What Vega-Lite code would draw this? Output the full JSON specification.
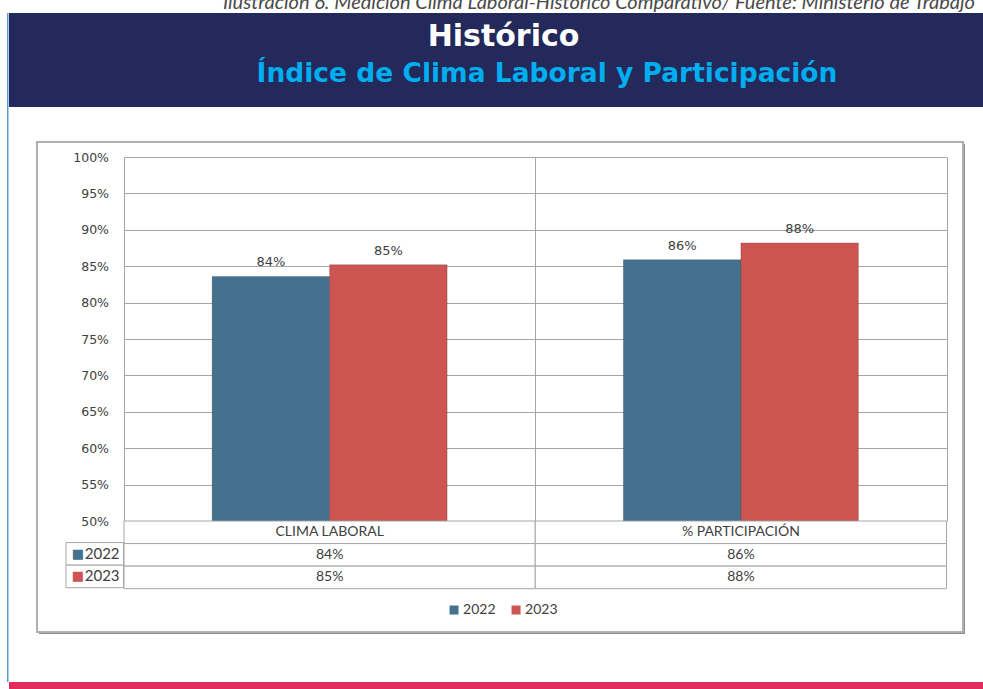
{
  "$schema": "https://vega.github.io/schema/vega-lite/v6.json",
  "padding": {"left": 7, "top": -7, "right": 0, "bottom": 0},
  "background": "white",
  "title": {
    "text": "Ilustración 6. Medición Clima Laboral-Histórico Comparativo/ Fuente: Ministerio de Trabajo",
    "anchor": "end",
    "font": "Lato",
    "fontSize": 20,
    "fontStyle": "italic",
    "fontWeight": "normal",
    "color": "#4A4A4A",
    "offset": 0,
    "dx": -10
  },
  "datasets": {
    "datos": [
      {"categoria": "CLIMA LABORAL", "anio": "2022", "valor": 0.836},
      {"categoria": "CLIMA LABORAL", "anio": "2023", "valor": 0.852},
      {"categoria": "% PARTICIPACIÓN", "anio": "2022", "valor": 0.859},
      {"categoria": "% PARTICIPACIÓN", "anio": "2023", "valor": 0.882}
    ],
    "categorias": [{"categoria": "CLIMA LABORAL"}, {"categoria": "% PARTICIPACIÓN"}],
    "anios": [{"anio": "2022"}, {"anio": "2023"}],
    "titulos": [
      {"orden": 1, "texto": "Histórico"},
      {"orden": 2, "texto": "Índice de Clima Laboral y Participación"}
    ]
  },
  "config": {
    "view": {"stroke": null},
    "axis": {"labelFont": "DejaVu Sans", "labelColor": "#404040"}
  },
  "spacing": 0,
  "hconcat": [
    {
      "width": 1.5,
      "height": 669,
      "data": {"values": []},
      "mark": "rect",
      "encoding": {},
      "view": {"fill": "#5B9BD5", "stroke": null}
    },
    {
      "spacing": 34,
      "vconcat": [
        {
          "width": 976,
          "height": 94,
          "view": {"fill": "#232A5B", "stroke": null},
          "data": {"name": "titulos"},
          "layer": [
            {
              "transform": [{"filter": "datum.orden == 1"}],
              "mark": {"type": "text", "font": "DejaVu Sans", "fontWeight": "bold", "fontSize": 30, "color": "#FFFFFF", "align": "center", "baseline": "alphabetic", "dx": 6.5, "dy": -14},
              "encoding": {"text": {"field": "texto"}}
            },
            {
              "transform": [{"filter": "datum.orden == 2"}],
              "mark": {"type": "text", "font": "DejaVu Sans", "fontWeight": "bold", "fontSize": 26.5, "color": "#00AEEF", "align": "center", "baseline": "alphabetic", "dx": 50, "dy": 22},
              "encoding": {"text": {"field": "texto"}}
            }
          ]
        },
        {
          "spacing": 48,
          "vconcat": [
            {
              "spacing": 0,
              "hconcat": [
                {"width": 27, "height": 10, "data": {"values": []}, "mark": "rect", "encoding": {}},
                {
                  "columns": 1,
                  "align": "none",
                  "spacing": -493,
                  "concat": [
                    {
                      "spacing": 0,
                      "hconcat": [
                        {"width": 2, "height": 10, "data": {"values": []}, "mark": "rect", "encoding": {}},
                        {
                          "width": 926,
                          "height": 490,
                          "data": {"values": []},
                          "mark": "rect",
                          "encoding": {},
                          "view": {"fill": "#8C8C8C", "stroke": null}
                        }
                      ]
                    },
                    {
                      "columns": 1,
                      "align": "none",
                      "spacing": -482,
                      "concat": [
                        {
                          "width": 926,
                          "height": 490,
                          "data": {"values": []},
                          "mark": "rect",
                          "encoding": {},
                          "view": {"stroke": "#B0B0B0", "strokeWidth": 2, "fill": "white"}
                        },
                        {
                          "spacing": 0,
                          "hconcat": [
                            {"width": 28, "height": 10, "data": {"values": []}, "mark": "rect", "encoding": {}},
                            {
                              "columns": 1,
                              "align": "none",
                              "spacing": 10,
                              "concat": [
                                {
                                  "columns": 2,
                                  "align": {"row": "none", "column": "each"},
                                  "spacing": {"row": -8, "column": -52},
                                  "concat": [
                                    {"width": 57.5, "height": 10, "data": {"values": []}, "mark": "rect", "encoding": {}},
                                    {
                                      "width": 822.5,
                                      "height": 364,
                                      "data": {"name": "datos"},
                                      "encoding": {
                                        "x": {
                                          "field": "categoria", "type": "nominal",
                                          "sort": ["CLIMA LABORAL", "% PARTICIPACIÓN"],
                                          "scale": {"paddingInner": 0, "paddingOuter": 0},
                                          "axis": {"title": null, "labels": false, "ticks": false, "domain": false, "grid": true, "tickBand": "extent", "gridColor": "#A6A6A6"}
                                        },
                                        "xOffset": {
                                          "field": "anio", "type": "nominal", "sort": ["2022", "2023"],
                                          "scale": {"paddingInner": 0, "paddingOuter": 0.75}
                                        },
                                        "y": {
                                          "field": "valor", "type": "quantitative",
                                          "scale": {"domain": [0.5, 1], "zero": false, "nice": false},
                                          "axis": {
                                            "title": null, "format": ".0%",
                                            "values": [0.5, 0.55, 0.6, 0.65, 0.7, 0.75, 0.8, 0.85, 0.9, 0.95, 1],
                                            "grid": true, "gridColor": "#A6A6A6", "ticks": false,
                                            "domain": true, "domainColor": "#A6A6A6",
                                            "labelPadding": 15.5, "labelFontSize": 12.5
                                          }
                                        }
                                      },
                                      "layer": [
                                        {
                                          "mark": {"type": "bar", "stroke": "#000000", "strokeOpacity": 0.18, "strokeWidth": 1},
                                          "encoding": {
                                            "y2": {"datum": 0.5},
                                            "color": {
                                              "field": "anio", "type": "nominal",
                                              "scale": {"domain": ["2022", "2023"], "range": ["#44718D", "#CC5552"]},
                                              "legend": null
                                            }
                                          }
                                        },
                                        {
                                          "mark": {"type": "text", "font": "DejaVu Sans", "fontSize": 13, "color": "#404040", "baseline": "middle", "dy": -14},
                                          "encoding": {"text": {"field": "valor", "type": "quantitative", "format": ".0%"}}
                                        }
                                      ]
                                    },
                                    {
                                      "width": 57.5,
                                      "height": 67.7,
                                      "data": {"name": "anios"},
                                      "encoding": {
                                        "y": {
                                          "field": "anio", "type": "nominal",
                                          "scale": {"domain": ["cat", "2022", "2023"], "paddingInner": 0, "paddingOuter": 0},
                                          "axis": null
                                        }
                                      },
                                      "layer": [
                                        {"mark": {"type": "rect", "fill": "white", "stroke": "#A6A6A6", "strokeWidth": 1}},
                                        {
                                          "mark": {"type": "text", "text": "■", "font": "DejaVu Sans", "fontSize": 13, "align": "left", "baseline": "middle", "dx": -23},
                                          "encoding": {"color": {"field": "anio", "type": "nominal", "legend": null}}
                                        },
                                        {
                                          "mark": {"type": "text", "font": "Lato", "fontSize": 15, "color": "#404040", "align": "left", "baseline": "middle", "dx": -10},
                                          "encoding": {"text": {"field": "anio"}}
                                        }
                                      ]
                                    },
                                    {
                                      "width": 822.5,
                                      "height": 67.7,
                                      "encoding": {
                                        "x": {
                                          "field": "categoria", "type": "nominal",
                                          "sort": ["CLIMA LABORAL", "% PARTICIPACIÓN"],
                                          "scale": {"paddingInner": 0, "paddingOuter": 0},
                                          "axis": null
                                        }
                                      },
                                      "layer": [
                                        {
                                          "data": {"name": "categorias"},
                                          "mark": {"type": "rect", "fill": "white", "stroke": "#A6A6A6", "strokeWidth": 1},
                                          "encoding": {
                                            "y": {
                                              "datum": "cat", "type": "nominal",
                                              "scale": {"domain": ["cat", "2022", "2023"], "paddingInner": 0, "paddingOuter": 0},
                                              "axis": null
                                            }
                                          }
                                        },
                                        {
                                          "data": {"name": "datos"},
                                          "mark": {"type": "rect", "fill": "white", "stroke": "#A6A6A6", "strokeWidth": 1},
                                          "encoding": {"y": {"field": "anio", "type": "nominal"}}
                                        },
                                        {
                                          "data": {"name": "categorias"},
                                          "mark": {"type": "text", "font": "Lato", "fontSize": 14, "color": "#404040", "baseline": "middle"},
                                          "encoding": {
                                            "y": {"datum": "cat", "type": "nominal"},
                                            "text": {"field": "categoria"}
                                          }
                                        },
                                        {
                                          "data": {"name": "datos"},
                                          "mark": {"type": "text", "font": "Lato", "fontSize": 14, "color": "#404040", "baseline": "middle"},
                                          "encoding": {
                                            "y": {"field": "anio", "type": "nominal"},
                                            "text": {"field": "valor", "type": "quantitative", "format": ".0%"}
                                          }
                                        }
                                      ]
                                    }
                                  ]
                                },
                                {
                                  "spacing": 0,
                                  "hconcat": [
                                    {"width": 362, "height": 10, "data": {"values": []}, "mark": "rect", "encoding": {}},
                                    {
                                      "width": 124,
                                      "height": 20,
                                      "data": {"name": "anios"},
                                      "layer": [
                                        {
                                          "mark": {"type": "point", "shape": "square", "filled": true, "size": 81, "opacity": 1},
                                          "encoding": {
                                            "x": {
                                              "field": "anio", "type": "nominal", "bandPosition": 0.42,
                                              "scale": {"type": "band", "paddingInner": 0, "paddingOuter": 0},
                                              "axis": null
                                            },
                                            "color": {"field": "anio", "type": "nominal", "legend": null}
                                          }
                                        },
                                        {
                                          "mark": {"type": "text", "font": "Lato", "fontSize": 14, "color": "#404040", "align": "left", "baseline": "middle"},
                                          "encoding": {
                                            "x": {"field": "anio", "type": "nominal", "bandPosition": 0.565},
                                            "text": {"field": "anio"}
                                          }
                                        }
                                      ]
                                    }
                                  ]
                                }
                              ]
                            }
                          ]
                        }
                      ]
                    }
                  ]
                }
              ]
            },
            {
              "width": 976,
              "height": 8,
              "data": {"values": []},
              "mark": "rect",
              "encoding": {},
              "view": {"fill": "#E02B5B", "stroke": null}
            }
          ]
        }
      ]
    }
  ]
}
